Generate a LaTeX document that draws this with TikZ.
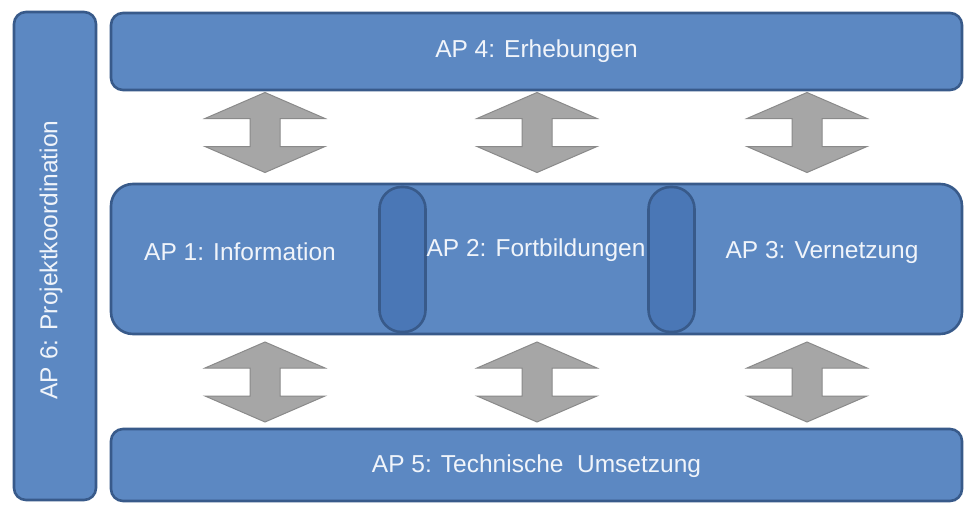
\documentclass[tikz,border=0pt]{standalone}
\usepackage{fontspec}
\setmainfont{Liberation Sans}
\definecolor{boxfill}{RGB}{92,136,194}
\definecolor{boxline}{RGB}{56,90,138}
\definecolor{ovalfill}{RGB}{72,117,180}
\definecolor{arrfill}{RGB}{166,166,166}
\definecolor{arrline}{RGB}{138,138,138}
\definecolor{txt}{RGB}{240,244,250}
\begin{document}
\begin{tikzpicture}[x=1pt,y=-1pt,
  box/.style={draw=boxline, fill=boxfill, line width=2.6pt, rounded corners=12pt, inner sep=0pt},
  oval/.style={draw=boxline, fill=ovalfill, fill opacity=0.85, line width=2.6pt, rounded corners=22pt, inner sep=0pt, minimum width=46pt, minimum height=145pt},
  lbl/.style={text=txt, font=\fontsize{24.5}{28}\selectfont, inner sep=0pt},
  dblarrow/.pic={\filldraw[fill=arrfill, draw=arrline, line width=1pt]
     (0,-40) -- (60,-14) -- (15,-14) -- (15,14) -- (60,14) -- (0,40) -- (-60,14) -- (-15,14) -- (-15,-14) -- (-60,-14) -- cycle;}
]
\useasboundingbox (0,0) rectangle (966,506);
\fill[white] (0,0) rectangle (966,506);

\node[box, minimum width=82pt, minimum height=488pt] (ap6) at (55,256) {};
\node[lbl, rotate=90] (t6) at (51,260) {AP 6: Projektkoordination};

\node[box, minimum width=851pt, minimum height=77pt] (ap4) at (536.5,51.5) {};
\node[lbl] (t4) at (ap4) {AP 4: Erhebungen};

\node[box, rounded corners=22pt, minimum width=851pt, minimum height=150pt] (mid) at (536.5,259) {};
\node[oval] (o1) at (402.5,259.5) {};
\node[oval] (o2) at (671.5,259.5) {};
\node[lbl] (t1) at (240,252) {AP 1: Information};
\node[lbl] (t2) at (536,250) {AP 2: Fortbildungen};
\node[lbl] (t3) at (822,252) {AP 3: Vernetzung};

\node[box, minimum width=851pt, minimum height=72pt] (ap5) at (536.5,465) {};
\node[lbl] (t5) at (536.5,466) {AP 5: Technische\ \ Umsetzung};

\pic at (265,132.5) {dblarrow};
\pic at (537,132.5) {dblarrow};
\pic at (807,132.5) {dblarrow};
\pic at (265,382) {dblarrow};
\pic at (537,382) {dblarrow};
\pic at (807,382) {dblarrow};
\end{tikzpicture}
\end{document}
